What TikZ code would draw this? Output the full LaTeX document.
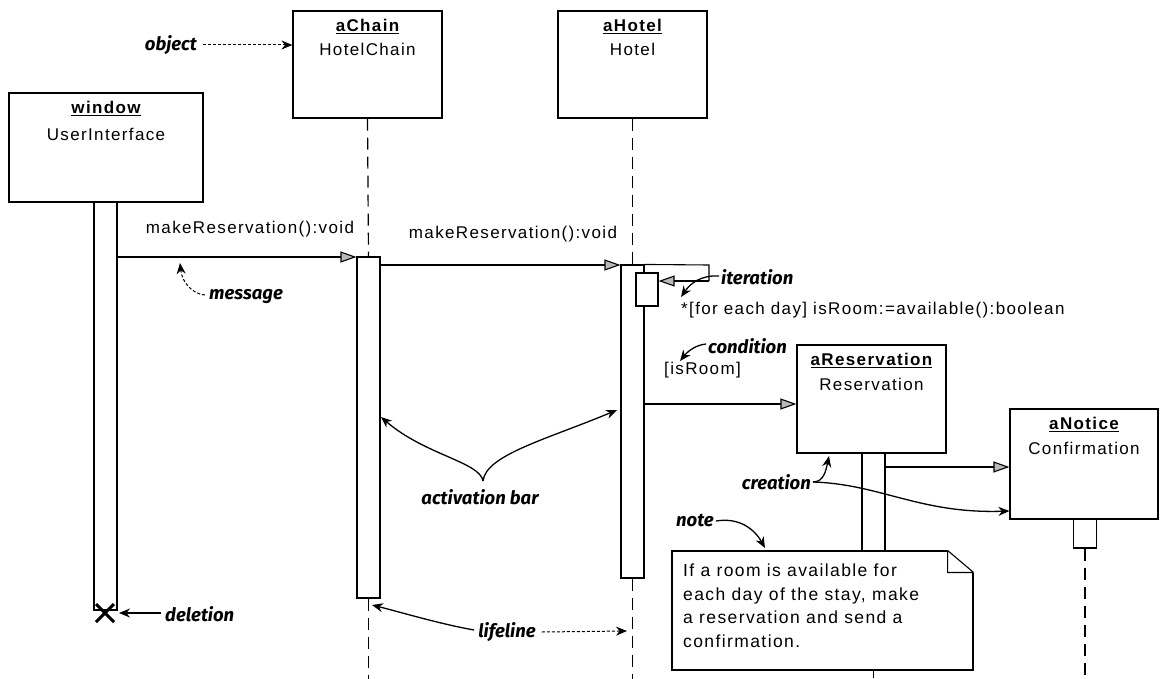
\documentclass[tikz,border=0pt]{standalone}
\usepackage{fontspec}
\setmainfont{Liberation Sans}
\newfontfamily\uifont{Liberation Sans}[LetterSpace=8]
\newfontfamily\annfont{Fira Sans}
\usetikzlibrary{arrows.meta,calc}
\tikzset{
  obj/.style={draw, line width=1.2pt, fill=white, rectangle, inner sep=0},
  bar/.style={draw, line width=1.1pt, fill=white, rectangle, inner sep=0, minimum width=23pt},
  life/.style={line width=1.2pt, dash pattern=on 12pt off 7pt},
  msg/.style={line width=1.1pt, -{Triangle[length=16pt,width=11pt,fill=gray!55]}},
  lbl/.style={font=\uifont\fontsize{17}{20}\selectfont, inner sep=0},
  ttl/.style={font=\uifont\fontsize{17}{20}\selectfont\bfseries, inner sep=0},
  ann/.style={font=\annfont\fontsize{18.5}{22}\selectfont\bfseries\itshape, inner sep=0},
  pointer/.style={line width=1.3pt, -{Stealth[length=11pt,width=9pt]}},
  thinpointer/.style={line width=1pt, densely dashed, -{Stealth[length=11pt,width=9pt]}},
}
\begin{document}
\begin{tikzpicture}[x=1pt,y=-1pt]
\useasboundingbox (0,0) rectangle (1161,679);

% object boxes
\node[obj, minimum width=194pt, minimum height=109pt] (window) at (106,147.5) {};
\node[obj, minimum width=149pt, minimum height=107pt] (chain) at (367.5,64.5) {};
\node[obj, minimum width=149pt, minimum height=107pt] (hotel) at (632.5,64.5) {};
\node[obj, minimum width=149pt, minimum height=108pt] (res) at (871.5,399) {};
\node[obj, minimum width=148pt, minimum height=110pt] (notice) at (1084,464) {};

\node[ttl] (windowname) at ($(window.north)+(0,16)$) {\underline{window}};
\node[lbl] (windowtype) at ($(window.north)+(0,42)$) {UserInterface};
\node[ttl] (chainname) at ($(chain.north)+(0,16)$) {\underline{aChain}};
\node[lbl] (chaintype) at ($(chain.north)+(0,39)$) {HotelChain};
\node[ttl] (hotelname) at ($(hotel.north)+(0,16)$) {\underline{aHotel}};
\node[lbl] (hoteltype) at ($(hotel.north)+(0,39)$) {Hotel};
\node[ttl] (resname) at ($(res.north)+(0,16)$) {\underline{aReservation}};
\node[lbl] (restype) at ($(res.north)+(0,40)$) {Reservation};
\node[ttl] (noticename) at ($(notice.north)+(0,16)$) {\underline{aNotice}};
\node[lbl] (noticetype) at ($(notice.north)+(0,40)$) {Confirmation};

% activation bars
\node[bar, minimum height=408pt] (winbar) at (105.5,406) {};
\node[bar, minimum height=341pt] (chainbar) at (368.5,427.5) {};
\node[bar, minimum height=313pt] (hotelbar) at (632.5,421.5) {};
\node[bar, minimum width=22pt, minimum height=33pt] (nest) at (647,289.5) {};
\node[bar, minimum height=98pt] (resbar) at (873.5,502) {};
\node[bar, minimum height=29pt] (notbar) at (1085,533.5) {};

% lifelines
\coordinate (bottom) at (0,679);
\draw[life] (chain.south) -- (chainbar.north);
\draw[life] (chainbar.south) -- (chainbar.south |- bottom);
\draw[life] (hotel.south) -- (hotelbar.north);
\draw[life] (hotelbar.south) -- (hotelbar.south |- bottom);
\draw[life] (resbar.south) -- (resbar.south |- bottom);
\draw[life] (notbar.south) -- (notbar.south |- bottom);

% deletion mark
\coordinate (del) at (105,613);
\draw[line width=3pt] ($(del)+(-9,-9)$) -- ($(del)+(9,9)$) ($(del)+(-9,9)$) -- ($(del)+(9,-9)$);

% messages
\coordinate (m1) at (0,257);
\coordinate (m2) at (0,265);
\coordinate (m3) at (0,281);
\coordinate (m4) at (0,404);
\coordinate (m5) at (0,467);
\coordinate (loopcorner) at (709,265);
\draw[msg] (winbar.east |- m1) -- (chainbar.west |- m1);
\draw[msg] (chainbar.east |- m2) -- (hotelbar.west |- m2);
\draw[line width=1.1pt] (hotelbar.north east) -- (loopcorner) -- (loopcorner |- m3);
\draw[msg] (loopcorner |- m3) -- (nest.east |- m3);
\draw[msg] (hotelbar.east |- m4) -- (res.west |- m4);
\draw[msg] (resbar.east |- m5) -- (notice.west |- m5);

\node[lbl] (msg1) at (250,229) {makeReservation():void};
\node[lbl] (msg2) at (513,234) {makeReservation():void};
\node[lbl, anchor=west] (iterlbl) at (681,310) {*[for each day] isRoom:=available():boolean};
\node[lbl, anchor=west] (condlbl) at (664,370) {[isRoom]};

% note
\node[draw, line width=1.1pt, fill=white, minimum width=301pt, minimum height=119pt, inner sep=0] (notebox) at (822.5,610.5) {};
\fill[white] ($(notebox.north east)+(-27,-2)$) rectangle ($(notebox.north east)+(2,23)$);
\draw[line width=1.1pt] ($(notebox.north east)+(-26,0)$) -- ($(notebox.north east)+(0,22)$)
  ($(notebox.north east)+(-26,0)$) -- ($(notebox.north east)+(-26,22)$) -- ($(notebox.north east)+(0,22)$);
\node[lbl, anchor=north west, align=left, font=\uifont\fontsize{17.5}{23.5}\selectfont] (notetext) at (683,564)
  {If a room is available for\\each day of the stay, make\\a reservation and send a\\confirmation.};

% annotations
\node[ann, anchor=east] (objectann) at (197,45) {object};
\draw[thinpointer] (objectann.east) ++(6,0) -- (chain.west |- objectann.east);

\node[ann, anchor=west] (messageann) at (209,296) {message};
\draw[thinpointer] (messageann.west) ++(-4,-1) .. controls (192,294) and (182,282) .. (180,263);

\node[ann, anchor=west] (iterann) at (721,277) {iteration};
\draw[pointer] (iterann.west) ++(-2,-1) .. controls (700,275) and (690,284) .. (681,297);

\node[ann, anchor=west] (condann) at (708,346) {condition};
\draw[pointer] (condann.west) ++(-2,-2) .. controls (696,345) and (688,351) .. (680,361);

\node[ann] (actann) at (480,497) {activation bar};
\coordinate (actroot) at (483,481);
\draw[pointer] (actroot) .. controls (480,462) and (425,455) .. (381,417);
\draw[pointer] (actroot) .. controls (486,455) and (545,440) .. (617,410);

\node[ann, anchor=east] (creatann) at (811,482) {creation};
\draw[pointer] (creatann.east) ++(2,0) .. controls (824,482) and (826,470) .. (829,456);
\draw[pointer] (creatann.east) ++(2,0) .. controls (880,484) and (920,514) .. (notice.west |- 0,511);

\node[ann, anchor=west] (noteann) at (676,521) {note};
\draw[pointer] (noteann.east) ++(2,0) .. controls (740,517) and (755,530) .. (765,548);

\node[ann] (lifeann) at (507,632) {lifeline};
\draw[pointer] (lifeann.west) ++(-4,-2) .. controls (440,624) and (400,612) .. (372,605);
\draw[thinpointer] (lifeann.east) ++(6,0) -- (627,631);

\node[ann, anchor=west] (delann) at (165,614) {deletion};
\draw[pointer] (delann.west) ++(-4,-1) -- (119,613);
\end{tikzpicture}
\end{document}
